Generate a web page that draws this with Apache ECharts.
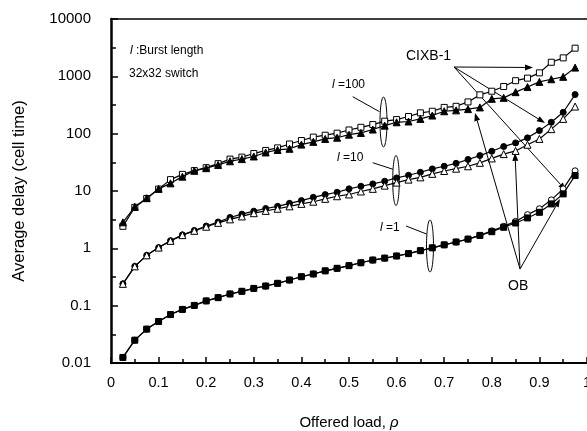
<!DOCTYPE html>
<html>
<head>
<meta charset="utf-8">
<script src="https://cdn.jsdelivr.net/npm/echarts@6/dist/echarts.min.js"></script>
<style>
  html, body { margin: 0; padding: 0; background: #fff; }
  #chart { width: 587px; height: 431px; }
</style>
</head>
<body>
<div id="chart"></div>
<script>
// offered load (x)
var load = [0.025, 0.05, 0.075, 0.1, 0.125, 0.15, 0.175, 0.2, 0.225, 0.25,
            0.275, 0.3, 0.325, 0.35, 0.375, 0.4, 0.425, 0.45, 0.475, 0.5,
            0.525, 0.55, 0.575, 0.6, 0.625, 0.65, 0.675, 0.7, 0.725, 0.75,
            0.775, 0.8, 0.825, 0.85, 0.875, 0.9, 0.925, 0.95, 0.975];

// burst length 100
var cixb100 = [2.42, 5.2, 7.4, 10.8, 15.8, 19.5, 22.7, 25.5, 30, 36,
               39, 45, 51, 56.5, 66, 76, 87, 94, 102, 116,
               129, 144, 165, 176, 199, 231, 246, 287, 300, 358,
               475, 550, 664, 840, 930, 1150, 1760, 2100, 3100];
var ob100 = [2.84, 5.3, 7.5, 10.9, 13.6, 17.8, 22.5, 25, 28.5, 33,
             36, 40, 47, 52, 54.5, 64.5, 72, 81, 85, 96,
             103, 118, 138, 158, 163, 181, 207, 246, 255, 268,
             287, 405, 421, 530, 650, 800, 890, 980, 1420];

// burst length 10
var cixb10 = [0.24, 0.485, 0.755, 1.03, 1.36, 1.72, 2.05, 2.45, 2.88, 3.45,
              3.95, 4.45, 4.95, 5.4, 6.1, 6.8, 7.76, 8.65, 9.5, 10.9,
              12.1, 13.3, 14.8, 16.9, 18.8, 21.2, 24.3, 27.0, 30.4, 35.5,
              41.5, 49.3, 59.6, 69, 84.5, 113, 158, 236, 481];
var ob10 = [0.24, 0.485, 0.755, 1.03, 1.35, 1.70, 2.02, 2.38, 2.78, 3.2,
            3.6, 4.1, 4.5, 4.9, 5.4, 5.96, 6.5, 7.3, 8.1, 8.7,
            9.8, 10.9, 12.4, 14.0, 15.8, 17.3, 19.9, 22.3, 24.5, 27.0,
            31, 37, 44, 50, 64, 81, 120, 181, 297];

// burst length 1
var cixb1 = [0.0125, 0.025, 0.039, 0.053, 0.070, 0.086, 0.101, 0.121, 0.138, 0.160,
             0.178, 0.20, 0.22, 0.245, 0.28, 0.32, 0.357, 0.405, 0.448, 0.499,
             0.56, 0.625, 0.675, 0.735, 0.81, 0.91, 1.02, 1.15, 1.29, 1.45,
             1.68, 2.02, 2.42, 2.95, 3.87, 4.9, 7.0, 10.9, 22.5];
var ob1 = [0.0125, 0.025, 0.039, 0.053, 0.070, 0.086, 0.101, 0.121, 0.138, 0.160,
           0.178, 0.20, 0.22, 0.245, 0.28, 0.32, 0.357, 0.405, 0.448, 0.499,
           0.56, 0.625, 0.675, 0.735, 0.81, 0.91, 1.02, 1.15, 1.29, 1.45,
           1.68, 1.95, 2.33, 2.77, 3.39, 4.25, 5.95, 8.9, 18.6];

var yTickLabels = ['0.01', '0.1', '1', '10', '100', '1000', '10000'];

var FONT = 'Liberation Sans';

function pairs(vals) {
    return load.map(function (x, i) { return [x, vals[i]]; });
}

function makeSeries(name, vals, symbol, filled, size, z) {
    return {
        name: name,
        type: 'line',
        data: pairs(vals),
        symbol: symbol,
        symbolSize: size,
        showAllSymbol: true,
        z: z,
        lineStyle: { color: '#000', width: 1.2 },
        itemStyle: { color: filled ? '#000' : '#fff', borderColor: '#000', borderWidth: 1 },
        xAxisIndex: 0,
        yAxisIndex: 0
    };
}

// a straight arrow from (x1,y1) to (x2,y2), head at the end
function arrow(x1, y1, x2, y2) {
    var dx = x2 - x1, dy = y2 - y1;
    var len = Math.sqrt(dx * dx + dy * dy);
    var ux = dx / len, uy = dy / len;
    var hl = 8, hw = 3;
    var bx = x2 - ux * hl, by = y2 - uy * hl;
    return [
        { type: 'line', silent: true, shape: { x1: x1, y1: y1, x2: bx, y2: by },
          style: { stroke: '#000', lineWidth: 1 } },
        { type: 'polygon', silent: true,
          shape: { points: [[x2, y2], [bx - uy * hw, by + ux * hw], [bx + uy * hw, by - ux * hw]] },
          style: { fill: '#000' } }
    ];
}

function label(left, cy, text, size) {
    return {
        type: 'text', left: left, top: cy - size / 2 - 1, silent: true,
        style: {
            text: text, fontFamily: FONT, fontSize: size, fill: '#000',
            rich: { i: { fontStyle: 'italic', fontFamily: FONT, fontSize: size, fill: '#000' } }
        }
    };
}

function ellipse(cx, cy, rx, ry) {
    return { type: 'ellipse', silent: true, shape: { cx: cx, cy: cy, rx: rx, ry: ry },
             style: { fill: 'none', stroke: '#000', lineWidth: 1 } };
}

function leader(x1, y1, x2, y2) {
    return { type: 'line', silent: true, shape: { x1: x1, y1: y1, x2: x2, y2: y2 },
             style: { stroke: '#000', lineWidth: 1 } };
}

var graphics = [
    label(130, 52, '{i|l} :Burst length', 12),
    label(129, 75, '32x32 switch', 12),
    label(406, 57, 'CIXB-1', 14),
    label(508, 287, 'OB', 14),
    label(332, 86, '{i|l} =100', 12),
    label(337, 159, '{i|l} =10', 12),
    label(380, 229, '{i|l} =1', 12),
    ellipse(383.5, 122, 3.5, 25),
    ellipse(396, 180.5, 3.3, 25),
    ellipse(430, 246, 3.5, 26),
    leader(352.7, 96.7, 379.5, 111.7),
    leader(372.7, 162.7, 393, 169.3),
    leader(406, 226, 426.5, 234)
].concat(
    arrow(454, 67, 533, 67.5),
    arrow(454, 67, 545, 123),
    arrow(454, 67, 566, 190.5),
    arrow(520, 269, 475, 113),
    arrow(520, 269, 515, 153),
    arrow(520, 269, 560, 199)
);

var chart = echarts.init(document.getElementById('chart'));
chart.setOption({
    animation: false,
    backgroundColor: '#fff',
    textStyle: { fontFamily: FONT },
    grid: { left: 111, right: 0, top: 19, bottom: 68, containLabel: false, outerBoundsMode: 'none' },
    xAxis: [{
        type: 'value',
        min: 0, max: 1, interval: 0.1,
        name: 'Offered load, {i|ρ}',
        nameLocation: 'middle',
        nameGap: 52,
        nameTextStyle: {
            fontFamily: FONT, fontSize: 15, color: '#000',
            rich: { i: { fontStyle: 'italic', fontFamily: FONT, fontSize: 15, color: '#000' } }
        },
        axisLine: { onZero: false, lineStyle: { color: '#000', width: 2 } },
        axisTick: { inside: true, length: 6, lineStyle: { color: '#000', width: 1.5 } },
        minorTick: { show: true, splitNumber: 2, length: 4, lineStyle: { color: '#000', width: 1.5 } },
        axisLabel: { fontFamily: FONT, fontSize: 14.5, color: '#000', margin: 12 },
        splitLine: { show: false }
    }, {
        type: 'value', position: 'top', min: 0, max: 1,
        axisLine: { onZero: false, lineStyle: { color: '#000', width: 1.5 } },
        axisTick: { show: false }, axisLabel: { show: false }, splitLine: { show: false }
    }],
    yAxis: [{
        type: 'log',
        min: 0.01, max: 10000,
        splitNumber: 6,
        name: 'Average delay (cell time)',
        nameLocation: 'middle',
        nameGap: 83,
        nameTextStyle: { fontFamily: FONT, fontSize: 16.5, color: '#000' },
        axisLine: { onZero: false, lineStyle: { color: '#000', width: 2.5 } },
        axisTick: { inside: true, length: 7, lineStyle: { color: '#000', width: 1.5 } },
        axisLabel: {
            fontFamily: FONT, fontSize: 15, color: '#000', margin: 20,
            formatter: function (v) {
                var k = Math.round(Math.log10(v)) + 2;
                return yTickLabels[k] !== undefined ? yTickLabels[k] : '';
            }
        },
        splitLine: { show: false }
    }, {
        // decade exponents: only used to place the half-decade ticks
        type: 'value',
        min: -2, max: 4, interval: 0.5,
        position: 'left',
        axisLine: { show: false, onZero: false },
        axisTick: { inside: true, length: 5, lineStyle: { color: '#000', width: 1.5 } },
        axisLabel: { show: false },
        splitLine: { show: false }
    }],
    graphic: graphics,
    series: [
        makeSeries('CIXB-1, l=100', cixb100, 'rect', false, 6, 2),
        makeSeries('OB, l=100', ob100, 'triangle', true, 7, 3),
        makeSeries('CIXB-1, l=10', cixb10, 'circle', true, 6, 2),
        makeSeries('OB, l=10', ob10, 'triangle', false, 7, 3),
        makeSeries('CIXB-1, l=1', cixb1, 'circle', false, 6, 2),
        makeSeries('OB, l=1', ob1, 'rect', true, 6, 3)
    ]
});
</script>
</body>
</html>
